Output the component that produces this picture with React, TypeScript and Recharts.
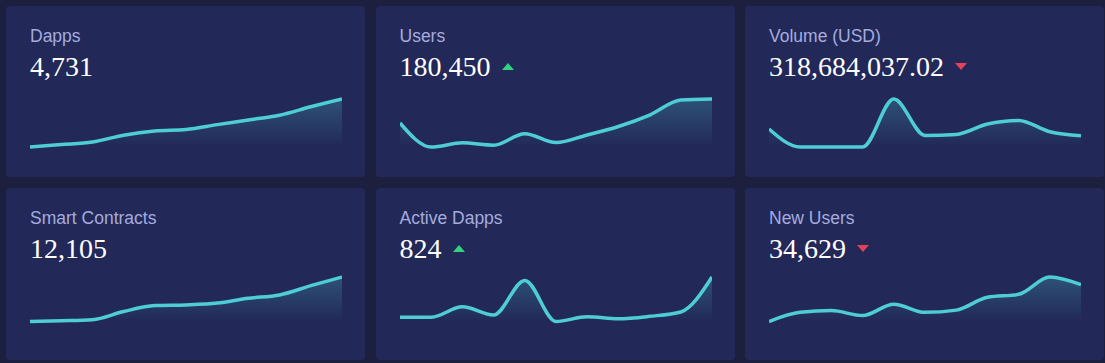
import React from 'react';
import { AreaChart, Area, XAxis, YAxis } from 'recharts';

const days = ['Jan 01', 'Jan 08', 'Jan 15', 'Jan 22', 'Jan 29', 'Feb 05', 'Feb 12', 'Feb 19', 'Feb 26', 'Mar 05', 'Mar 12'];

const dapps = [3880, 3923, 3968, 4090, 4165, 4191, 4277, 4359, 4444, 4593, 4731];
const users = [16050, 14200, 14520, 14340, 15230, 14540, 15130, 15780, 16660, 17820, 17900];
const volume = [34500000, 0, 0, 0, 91900000, 22200000, 24100000, 44000000, 50900000, 29300000, 21600000];
const smartContracts = [10900, 10920, 10950, 11170, 11330, 11350, 11400, 11530, 11620, 11870, 12105];
const activeDapps = [622, 621, 674, 633, 807, 600, 624, 614, 626, 648, 824];
const newUsers = [2300, 2670, 2740, 2540, 3000, 2670, 2760, 3280, 3400, 4100, 3790];

const titles = ['Dapps', 'Users', 'Volume (USD)', 'Smart Contracts', 'Active Dapps', 'New Users'];
const totals = ['4,731', '180,450', '318,684,037.02', '12,105', '824', '34,629'];
const trends: Array<'up' | 'down' | null> = [null, 'up', 'down', null, 'up', 'down'];
const series = [dapps, users, volume, smartContracts, activeDapps, newUsers];

const LINE = '#4ecdd6';
const CARD_BG = '#222858';

const Trend = ({ dir }: { dir: 'up' | 'down' }) => (
  <span
    style={{
      display: 'inline-block',
      width: 0,
      height: 0,
      marginLeft: 11,
      borderLeft: '6.5px solid transparent',
      borderRight: '6.5px solid transparent',
      borderBottom: dir === 'up' ? '7px solid #34d27b' : undefined,
      borderTop: dir === 'down' ? '7px solid #e2425a' : undefined,
    }}
  />
);

const StatCard = ({ idx, left, top, height, plotTop, plotHeight }: {
  idx: number; left: number; top: number; height: number; plotTop: number; plotHeight: number;
}) => {
  const data = days.map((d, i) => ({ day: d, value: series[idx][i] }));
  const gid = `fill-${idx}`;
  return (
    <div
      style={{
        position: 'absolute',
        left,
        top,
        width: 359,
        height,
        background: CARD_BG,
        borderRadius: 4,
      }}
    >
      <div
        style={{
          position: 'absolute',
          left: 24,
          top: 20,
          fontFamily: '"Liberation Sans", Arial, sans-serif',
          fontSize: 17.5,
          lineHeight: '20px',
          color: '#a5acde',
          whiteSpace: 'nowrap',
        }}
      >
        {titles[idx]}
      </div>
      <div
        style={{
          position: 'absolute',
          left: 24,
          top: 44.5,
          height: 32,
          display: 'flex',
          alignItems: 'center',
          fontFamily: '"Liberation Serif", "Times New Roman", serif',
          fontSize: 28,
          lineHeight: '32px',
          color: '#ffffff',
          whiteSpace: 'nowrap',
        }}
      >
        <span>{totals[idx]}</span>
        {trends[idx] && <Trend dir={trends[idx]!} />}
      </div>
      <div style={{ position: 'absolute', left: 24, top: plotTop - 3 }}>
        <AreaChart
          width={312}
          height={plotHeight + 6}
          data={data}
          margin={{ top: 3, right: 0, bottom: 3, left: 0 }}
        >
          <defs>
            <linearGradient id={gid} x1="0" y1="0" x2="0" y2="1">
              <stop offset="0%" stopColor={LINE} stopOpacity={0.42} />
              <stop offset="100%" stopColor={LINE} stopOpacity={0} />
            </linearGradient>
          </defs>
          <XAxis dataKey="day" hide />
          <YAxis hide domain={['dataMin', 'dataMax']} />
          <Area
            type="monotone"
            dataKey="value"
            stroke={LINE}
            strokeWidth={3.5}
            fill={`url(#${gid})`}
            dot={false}
            activeDot={false}
            isAnimationActive={false}
          />
        </AreaChart>
      </div>
    </div>
  );
};

const lefts = [6, 375.5, 745];

export default function App() {
  return (
    <div
      style={{
        position: 'fixed',
        left: 0,
        top: 0,
        width: 1105,
        height: 363,
        background: '#1c1f3d',
        overflow: 'hidden',
      }}
    >
      {[0, 1, 2].map((c) => (
        <StatCard key={c} idx={c} left={lefts[c]} top={6} height={171} plotTop={92.5} plotHeight={48} />
      ))}
      {[0, 1, 2].map((c) => (
        <StatCard key={c + 3} idx={c + 3} left={lefts[c]} top={188} height={172} plotTop={89} plotHeight={44.5} />
      ))}
    </div>
  );
}
